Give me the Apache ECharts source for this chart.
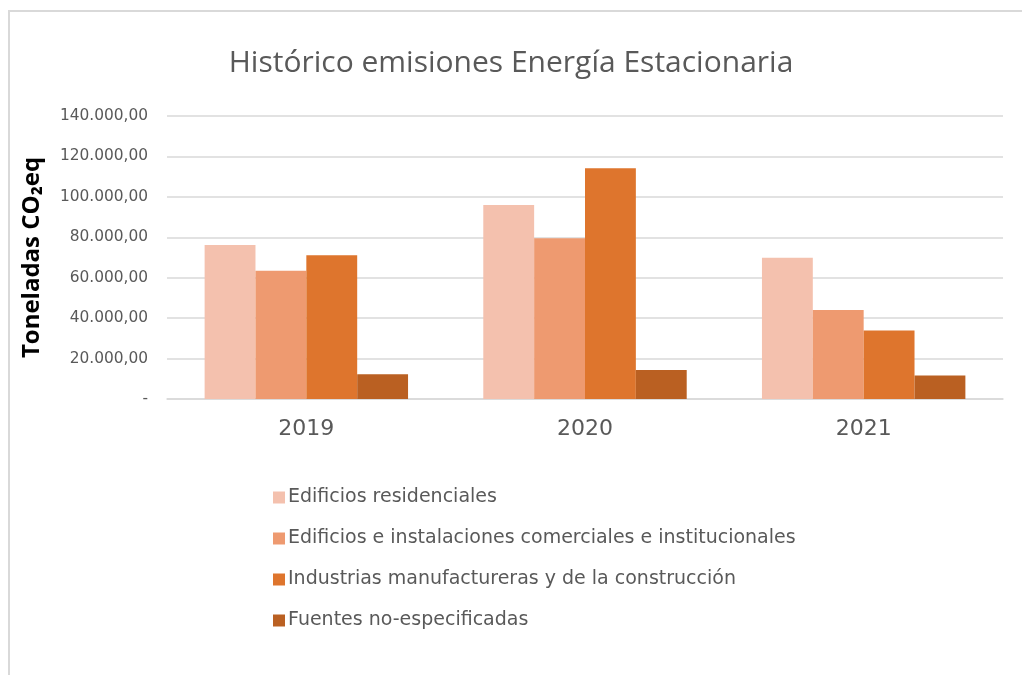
<!DOCTYPE html>
<html>
<head>
<meta charset="utf-8">
<script src="https://cdn.jsdelivr.net/npm/echarts@6/dist/echarts.min.js"></script>
<style>
  html, body { margin: 0; padding: 0; background: #fff; }
  #chart { width: 1022px; height: 675px; }
</style>
</head>
<body>
<div id="chart"></div>
<script>
// data
var years = ['2019', '2020', '2021'];
var residenciales = [76200, 96000, 69900];
var comerciales = [63500, 79500, 44000];
var industrias = [71100, 114200, 33900];
var noEspecificadas = [12200, 14400, 11600];
var seriesNames = [
    'Edificios residenciales',
    'Edificios e instalaciones comerciales e institucionales',
    'Industrias manufactureras y de la construcción',
    'Fuentes no-especificadas'
];
var colors = ['#F4C1AE', '#EE9A70', '#DE752D', '#BA6022'];

function fmt(v) {
    if (v === 0) return '-';
    var s = String(Math.round(v));
    s = s.replace(/\B(?=(\d{3})+(?!\d))/g, '.');
    return s + ',00';
}

var chart = echarts.init(document.getElementById('chart'));
var values = [residenciales, comerciales, industrias, noEspecificadas];

var option = {
    backgroundColor: '#fff',
    animation: false,
    color: colors,
    title: {
        text: 'Histórico emisiones Energía Estacionaria',
        left: 'center',
        top: 43,
        textStyle: {
            fontFamily: 'Open Sans',
            fontSize: 30,
            fontWeight: 'normal',
            color: '#595959'
        }
    },
    graphic: [
        {
            type: 'polyline',
            shape: { points: [[9, 680], [9, 11], [1030, 11]] },
            style: { stroke: '#d9d9d9', lineWidth: 2, fill: null }
        }
    ],
    grid: {
        left: 167,
        right: 19,
        top: 116,
        height: 283
    },
    legend: {
        orient: 'vertical',
        left: 268,
        top: 483,
        itemGap: 22,
        itemWidth: 12,
        itemHeight: 12,
        icon: 'rect',
        textStyle: {
            fontFamily: 'DejaVu Sans',
            fontSize: 19,
            color: '#595959',
            padding: [0, 0, 0, -2]
        },
        data: seriesNames
    },
    xAxis: {
        type: 'category',
        data: years,
        axisTick: { show: false },
        axisLine: { lineStyle: { color: '#d9d9d9', width: 1.5 } },
        axisLabel: {
            margin: 19,
            fontFamily: 'DejaVu Sans',
            fontSize: 22,
            color: '#595959'
        }
    },
    yAxis: {
        type: 'value',
        min: 0,
        max: 140000,
        interval: 20000,
        name: 'Toneladas CO₂eq',
        nameLocation: 'middle',
        nameGap: 123,
        nameTextStyle: {
            fontFamily: 'Open Sans',
            fontSize: 24,
            fontWeight: 'bold',
            color: '#000'
        },
        axisLine: { show: false },
        axisTick: { show: false },
        splitLine: { lineStyle: { color: '#d9d9d9', width: 1.5 } },
        axisLabel: {
            margin: 19,
            fontFamily: 'DejaVu Sans',
            fontSize: 15.4,
            color: '#595959',
            formatter: fmt
        }
    },
    series: values.map(function (d, i) {
        return {
            name: seriesNames[i],
            type: 'bar',
            data: d,
            barGap: '0%',
            barCategoryGap: '27%',
            itemStyle: { color: colors[i] }
        };
    })
};
chart.setOption(option);
</script>
</body>
</html>
